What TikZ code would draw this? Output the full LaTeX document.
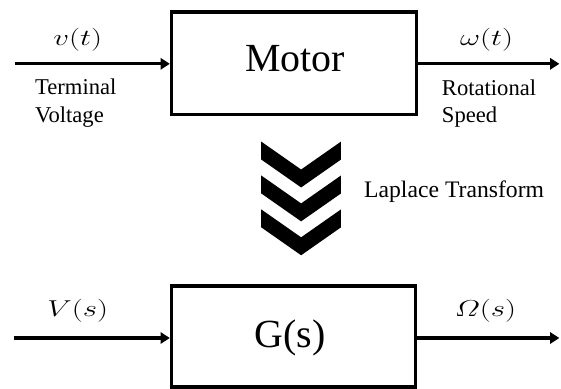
\documentclass[tikz,border=0pt]{standalone}
\usepackage[no-math]{fontspec}
\setmainfont{Liberation Serif}
\usepackage{amsmath}
\usepackage{graphicx}
\usetikzlibrary{arrows.meta}

\newcommand{\widemath}[1]{\scalebox{1.35}[1]{$#1$}}

\tikzset{
  block/.style={draw, line width=2.5pt, minimum width=184.5pt, minimum height=77pt, inner sep=0pt},
  signal/.style={line width=2.5pt, -{Triangle[length=7pt,width=8.5pt]}},
  sig/.style={inner sep=0pt, font=\fontsize{16}{19}\selectfont},
  note/.style={inner sep=0pt, align=left, anchor=west, font=\fontsize{17}{20.5}\selectfont},
  big/.style={inner sep=0pt, font=\fontsize{30}{36}\selectfont},
}

\begin{document}
\begin{tikzpicture}[x=0.75pt,y=0.75pt,yscale=-1,xscale=1]
\path (0,0) rectangle (561,390);

%Shape: Rectangle [id:motor]
\node (motor) [block] at (295,63.5) {};
\node (motorlbl) [big] at (296,59) {Motor};
%Shape: Rectangle [id:plant]
\node (plant) [block, minimum width=183.75pt, minimum height=75.75pt] at (294.5,337.5) {};
\node (plantlbl) [big] at (291,339) {G(s)};

%Straight Lines [id:input, output]
\coordinate (vin) at (15,64);
\coordinate (wout) at (561,64);
\draw [signal] (vin) -- (vin -| motor.west);
\draw [signal] (wout -| motor.east) -- (wout);
\coordinate (Vin) at (14,339);
\coordinate (Wout) at (561,339);
\draw [signal] (Vin) -- (Vin -| plant.west);
\draw [signal] (Wout -| plant.east) -- (Wout);

%Signal labels
\node (vt) [sig] at (78,40) {\widemath{v(t)}};
\node (wt) [sig] at (488,40) {\widemath{\omega(t)}};
\node (Vs) [sig] at (78,312) {\widemath{V(s)}};
\node (Ws) [sig] at (487,312) {\widemath{\varOmega(s)}};
\node (vnote) [note] at (35,103.5) {Terminal\\Voltage};
\node (wnote) [note] at (443,103.5) {Rotational\\Speed};

%Shape: Chevrons
\fill (262,142) -- (302,170) -- (342,142) -- (342,160) -- (302,188) -- (262,160) -- cycle ;
\fill (262,176) -- (302,204) -- (342,176) -- (342,194) -- (302,222) -- (262,194) -- cycle ;
\fill (262,210) -- (302,238) -- (342,210) -- (342,228) -- (302,256) -- (262,228) -- cycle ;
\node (laplace) [note, font=\fontsize{17.8}{21}\selectfont] at (365,192) {Laplace Transform};

\end{tikzpicture}
\end{document}
